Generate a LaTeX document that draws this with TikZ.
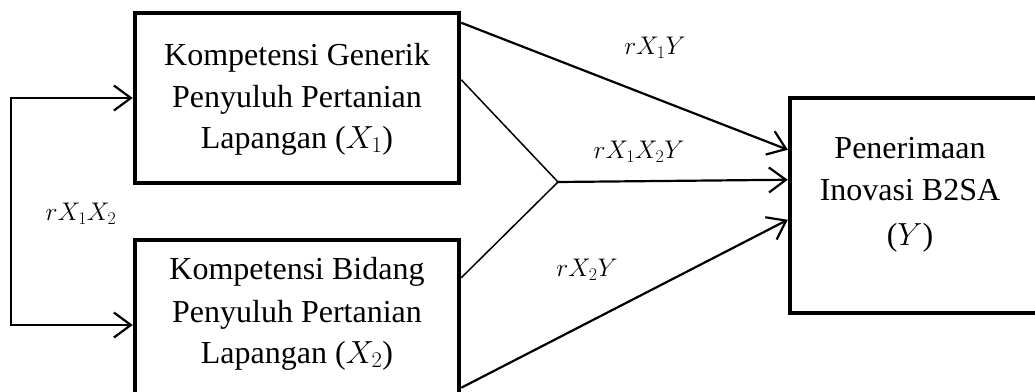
\RequirePackage{fix-cm}
\documentclass[tikz,border=0pt]{standalone}
\usepackage{fontspec}
\setmainfont{Liberation Serif}
\usetikzlibrary{arrows.meta,calc}
\begin{document}
\begin{tikzpicture}[x=1pt,y=-1pt,
  varbox/.style={draw,line width=4.5pt,minimum width=324pt,minimum height=170pt,inner sep=0pt},
  boxtext/.style={anchor=base,font=\fontsize{32}{38}\selectfont},
  coef/.style={font=\fontsize{25.5}{30}\selectfont,inner sep=0pt},
  barb/.tip={Straight Barb[length=17pt,width=25pt,line width=2.2pt]},
  arrowline/.style={line width=2.2pt,-barb},
  forkline/.style={line width=1.5pt}]
\useasboundingbox (0,0) rectangle (1035,391);
\clip (0,0) rectangle (1035,391);

% variable boxes
\node[varbox] (x1) at (297,98) {};
\node[varbox] (x2) at (297,325) {};
\node[draw,line width=4.5pt,minimum width=255pt,minimum height=215pt,inner sep=0pt] (y) at (917.5,205.5) {};

% box texts
\node[boxtext] (x1a) at (297,65) {Kompetensi Generik};
\node[boxtext] (x1b) at (297,107) {Penyuluh Pertanian};
\node[boxtext] (x1c) at (297,148) {Lapangan ($X_1$)};
\node[boxtext] (x2a) at (297,279) {Kompetensi Bidang};
\node[boxtext] (x2b) at (297,322) {Penyuluh Pertanian};
\node[boxtext] (x2c) at (297,363) {Lapangan ($X_2$)};
\node[boxtext] (ya) at (910,158) {Penerimaan};
\node[boxtext] (yb) at (910,200) {Inovasi B2SA};
\node[boxtext] (yc) at (910,245) {($Y$)};

% anchor points on the box sides
\coordinate (x1top) at ($(x1.north east)+(0,12)$);
\coordinate (x1mid) at ($(x1.north east)+(0,69)$);
\coordinate (x2mid) at ($(x2.north east)+(0,40)$);
\coordinate (x2bot) at ($(x2.north east)+(0,150)$);
\coordinate (yin1) at ($(y.north west)+(0,54)$);
\coordinate (yin2) at ($(y.north west)+(0,84)$);
\coordinate (yin3) at ($(y.north west)+(0,124)$);
\coordinate (fork) at (558,182);

% correlation between the two competences
\draw[line width=2.2pt,barb-barb] (x1.west) -- ++(-122,0) |- (x2.west);

% paths to Y
\draw[arrowline] (x1top) -- (yin1);
\draw[forkline] (x1mid) -- (fork) -- (x2mid);
\draw[arrowline] (fork) -- (yin2);
\draw[arrowline] (x2bot) -- (yin3);

% coefficients
\node[coef] (r12) at (81,214) {$rX_1X_2$};
\node[coef] (r1y) at (655,48) {$rX_1Y$};
\node[coef] (r12y) at (639,152) {$rX_1X_2Y$};
\node[coef] (r2y) at (587,270) {$rX_2Y$};
\end{tikzpicture}
\end{document}
